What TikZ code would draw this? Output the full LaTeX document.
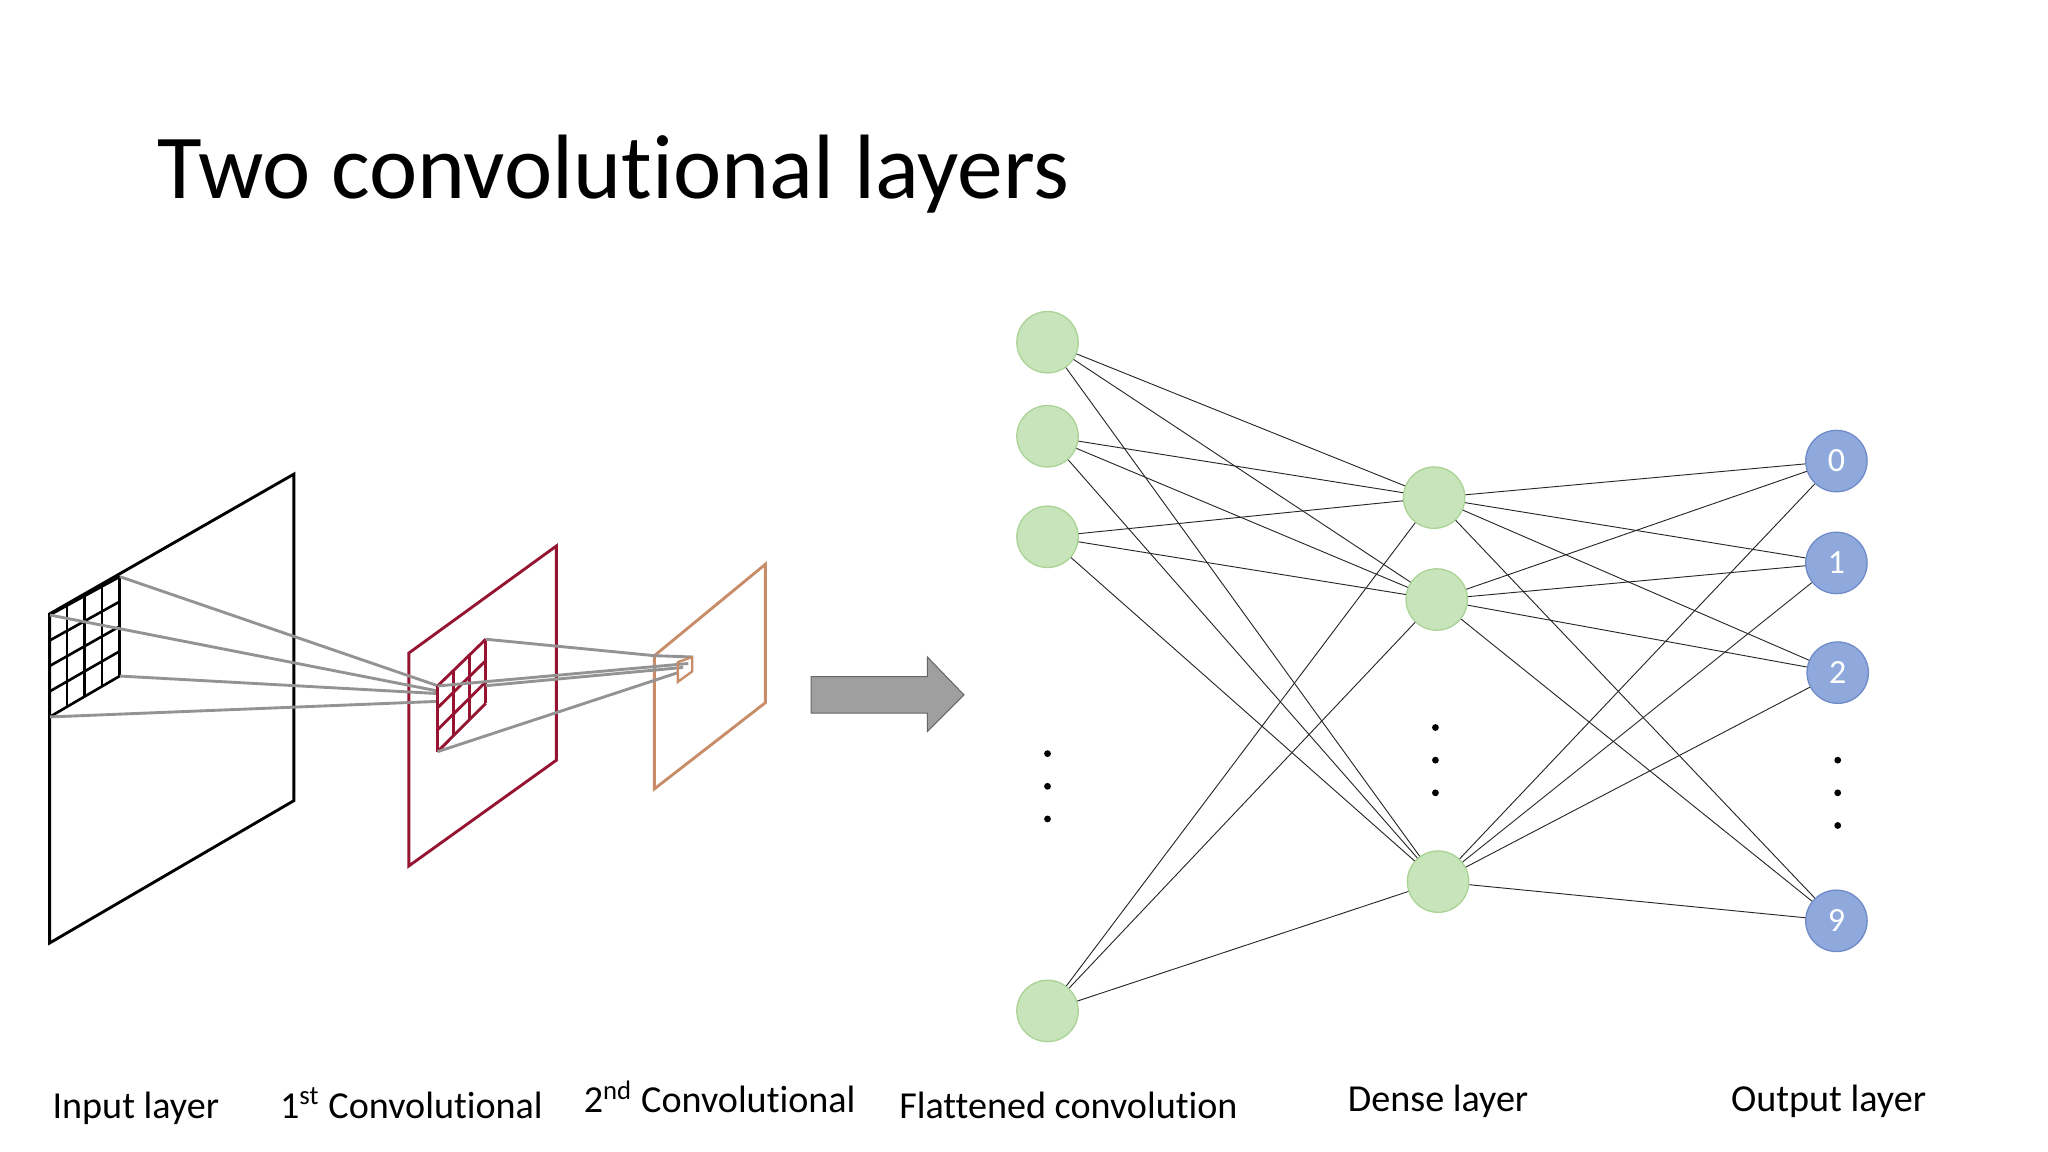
\documentclass[tikz,border=0pt]{standalone}
\usepackage{fontspec}
\setmainfont[Ligatures=NoCommon]{Carlito}
\begin{document}
\begin{tikzpicture}[x=0.5pt,y=-0.5pt,
  flat/.style={circle,minimum size=23.5pt,inner sep=0pt,fill=grn,draw=grnd,line width=0.5pt},
  outn/.style={circle,minimum size=23.5pt,inner sep=0pt,fill=blu,draw=blud,line width=0.5pt,text=white,font=\fontsize{13}{13}\selectfont},
  conn/.style={draw=black!85,line width=0.35pt},
  ray/.style={draw=gray!85,line width=1.1pt},
  lbl/.style={font=\fontsize{14.6}{16}\selectfont,anchor=base},
  dot/.style={circle,fill=black,inner sep=0pt,minimum size=2.6pt}]
\definecolor{grn}{RGB}{200,228,186}
\definecolor{grnd}{RGB}{170,212,150}
\definecolor{blu}{RGB}{143,169,220}
\definecolor{blud}{RGB}{112,140,200}
\definecolor{crim}{RGB}{150,20,50}
\definecolor{tan}{RGB}{200,140,105}
\useasboundingbox[fill=white] (0,0) rectangle (1568,882);
% title
\node[anchor=base west,font=\fontsize{35}{35}\selectfont,inner sep=0pt] (title) at (120,152) {Two convolutional layers};
% input plane
\draw[black,line width=1.1pt] (38,470) -- (225,363) -- (225,613) -- (38,722) -- cycle;
\foreach \i in {0,...,4}{
  \draw[black,line width=1pt] ({38+\i*13.4},{470.9-\i*7.35}) -- ({38+\i*13.4},{548.9-\i*7.8});
  \draw[black,line width=1pt] (38,{470.9+\i*19.5}) -- (91.8,{441.5+\i*19});}
% conv1 plane
\draw[crim,line width=1.1pt] (313,500) -- (426,418) -- (426,582) -- (313,663) -- cycle;
% rays input -> conv1
\draw[ray] (91.8,441.5) -- (335,525);
\draw[ray] (38.3,470.9) -- (335,529);
\draw[ray] (91.8,517.6) -- (335,531);
\draw[ray] (38.3,548.9) -- (335,537);
% conv1 grid
\foreach \i in {0,1,2,3}{
  \draw[crim,line width=1.1pt] ({335+\i*12.3},{525.2-\i*11.93}) -- ({335+\i*12.3},{575.5-\i*12.33});}
\foreach \i in {0,...,3}{
  \draw[crim,line width=1.1pt] (335,{525.2+\i*16.77}) -- (371.9,{489.4+\i*16.37});}
% conv2 plane
\draw[tan,line width=1.1pt] (501,502) -- (586,432) -- (586,538) -- (501,604) -- cycle;
% rays conv1 -> conv2
\draw[ray] (371.9,489.4) -- (501,502) -- (530,503);
\draw[ray] (335,525.2) -- (527,508);
\draw[ray] (371.9,525) -- (523,511);
\draw[ray] (335,575.5) -- (519,515);
\draw[tan,line width=0.9pt] (519,507) -- (530,503) -- (530,514) -- (519,522) -- cycle;
% arrow
\fill[gray!75!white,draw=gray!80!black,line width=0.4pt] (621,518) -- (710,518) -- (710,503) -- (738,532) -- (710,560) -- (710,546) -- (621,546) -- cycle;
% network nodes
\node[flat] (f1) at (802,262) {};
\node[flat] (f2) at (802,334) {};
\node[flat] (f3) at (802,411) {};
\node[flat] (f4) at (802,774) {};
\node[flat] (d1) at (1098,381) {};
\node[flat] (d2) at (1100,459) {};
\node[flat] (d3) at (1101,675) {};
\node[outn] (o0) at (1406,353) {0};
\node[outn] (o1) at (1406,431) {1};
\node[outn] (o2) at (1407,515) {2};
\node[outn] (o9) at (1406,705) {9};
\foreach \a in {f1,f2,f3,f4}{\foreach \b in {d1,d2,d3}{\draw[conn] (\a) -- (\b);}}
\foreach \a in {d1,d2,d3}{\foreach \b in {o0,o1,o2,o9}{\draw[conn] (\a) -- (\b);}}
\foreach \y [count=\k] in {577,602,627}{\node[dot] (fd\k) at (802,\y) {};}
\foreach \y [count=\k] in {557,582,607}{\node[dot] (dd\k) at (1099,\y) {};}
\foreach \y [count=\k] in {582,607,632}{\node[dot] (od\k) at (1407,\y) {};}
% labels
\node[lbl] (l1) at (104,856) {Input layer};
\node[lbl] (l2) at (315,856) {1\textsuperscript{st} Convolutional};
\node[lbl] (l3) at (551,852) {2\textsuperscript{nd} Convolutional};
\node[lbl] (l4) at (818,856) {Flattened convolution};
\node[lbl] (l5) at (1101,851) {Dense layer};
\node[lbl] (l6) at (1400,851) {Output layer};
\end{tikzpicture}
\end{document}
